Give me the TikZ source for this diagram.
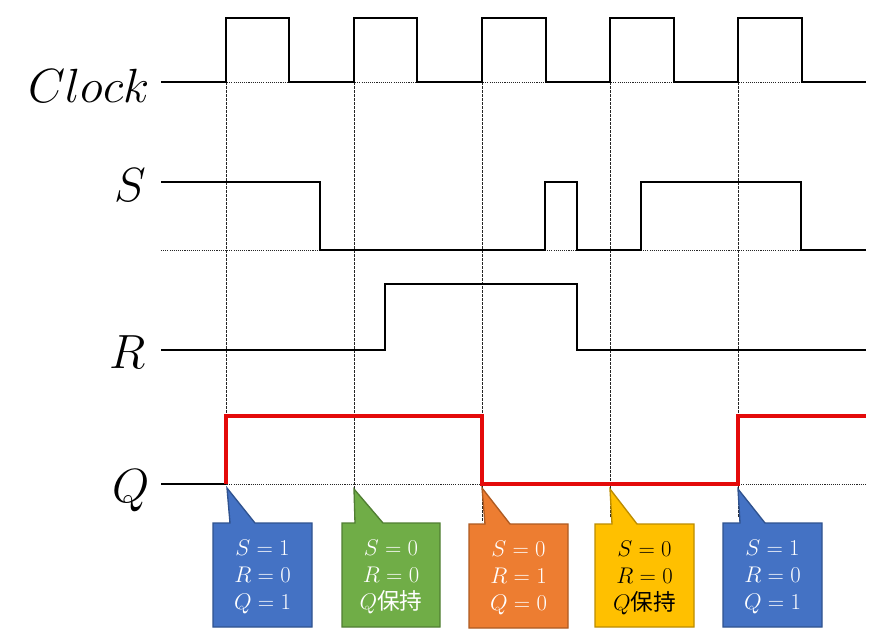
\RequirePackage{fix-cm}
\documentclass[tikz,border=0pt]{standalone}
\usepackage{fontspec}
\newfontfamily\cjk{Noto Sans CJK JP}
\definecolor{qred}{RGB}{228,10,10}
\definecolor{cblue}{RGB}{68,114,196}
\definecolor{cblueD}{RGB}{47,82,143}
\definecolor{cgreen}{RGB}{112,173,71}
\definecolor{cgreenD}{RGB}{80,126,50}
\definecolor{corange}{RGB}{237,125,49}
\definecolor{corangeD}{RGB}{174,90,33}
\definecolor{cyellow}{RGB}{255,192,0}
\definecolor{cyellowD}{RGB}{188,140,0}
\begin{document}
\begin{tikzpicture}[x=0.75pt,y=-0.75pt,
  clk/.style={line width=1pt, line join=miter},
  wave/.style={line width=1.5pt, line join=miter},
  qwave/.style={line width=2.5pt, qred, line join=miter},
  hguide/.style={line width=0.5pt, dash pattern=on 0.8pt off 0.8pt, black!85},
  vguide/.style={line width=0.5pt, dash pattern=on 2pt off 1pt, black!85},
  siglabel/.style={font=\fontsize{36}{40}\selectfont, anchor=base east, inner sep=0pt},
  calloutbox/.style={line width=1pt, line join=miter},
  ctext/.style={font=\fontsize{17}{20.25}\selectfont, align=center, inner sep=0pt, anchor=center}
]
\useasboundingbox (0,0) rectangle (895,636);
\fill[white] (0,0) rectangle (895,636);

% guides
\draw[hguide] (161,82) -- (866,82);
\draw[hguide] (161,250) -- (866,250);
\draw[hguide] (161,484) -- (866,484);
\draw[vguide] (226,82) -- (226,486);
\draw[vguide] (354,82) -- (354,517);
\draw[vguide] (482,82) -- (482,522);
\draw[vguide] (610,82) -- (610,517);
\draw[vguide] (738,82) -- (738,517);

% labels
\node[siglabel] (lclk) at (150,102) {$Clock$};
\node[siglabel] (ls) at (146,201) {$S$};
\node[siglabel] (lr) at (146,368) {$R$};
\node[siglabel] (lq) at (150,502) {$Q$};

% Clock
\draw[clk] (161,82) -- (226,82) -- (226,18) -- (289,18) -- (289,82)
  -- (354,82) -- (354,18) -- (417,18) -- (417,82)
  -- (482,82) -- (482,18) -- (546,18) -- (546,82)
  -- (610,82) -- (610,18) -- (674,18) -- (674,82)
  -- (738,82) -- (738,18) -- (802,18) -- (802,82) -- (866,82);
% S
\draw[wave] (161,182) -- (320,182) -- (320,250) -- (545,250) -- (545,182)
  -- (577,182) -- (577,250) -- (641,250) -- (641,182) -- (801,182)
  -- (801,250) -- (866,250);
% R
\draw[wave] (161,350) -- (385,350) -- (385,284) -- (577,284) -- (577,350) -- (866,350);
% Q
\draw[wave] (161,484) -- (226,484);
\draw[qwave] (226,484) -- (226,416) -- (482,416) -- (482,484) -- (738,484)
  -- (738,416) -- (866,416);

% callouts
\draw[calloutbox, fill=cblue, draw=cblueD]
  (213,523) -- (230,523) -- (227,488) -- (255,523) -- (312,523) -- (312,627) -- (213,627) -- cycle;
\node[ctext, text=white] (c1) at (262.5,577) {$S=1$\\$R=0$\\$Q=1$};

\draw[calloutbox, fill=cgreen, draw=cgreenD]
  (342,523) -- (355,523) -- (354,489) -- (383,523) -- (440,523) -- (440,627) -- (342,627) -- cycle;
\node[ctext, text=white] (c2) at (391,577) {$S=0$\\$R=0$\\$Q${\cjk 保持}};

\draw[calloutbox, fill=corange, draw=corangeD]
  (469,524) -- (485,524) -- (482,488) -- (510,524) -- (568,524) -- (568,628) -- (469,628) -- cycle;
\node[ctext, text=white] (c3) at (518.5,578) {$S=0$\\$R=1$\\$Q=0$};

\draw[calloutbox, fill=cyellow, draw=cyellowD]
  (595,524) -- (612,524) -- (610,489) -- (637,524) -- (694,524) -- (694,627) -- (595,627) -- cycle;
\node[ctext, text=black] (c4) at (644.5,578) {$S=0$\\$R=0$\\$Q${\cjk 保持}};

\draw[calloutbox, fill=cblue, draw=cblueD]
  (723,523) -- (740,523) -- (738,489) -- (765,523) -- (822,523) -- (822,627) -- (723,627) -- cycle;
\node[ctext, text=white] (c5) at (772.5,577) {$S=1$\\$R=0$\\$Q=1$};
\end{tikzpicture}
\end{document}
